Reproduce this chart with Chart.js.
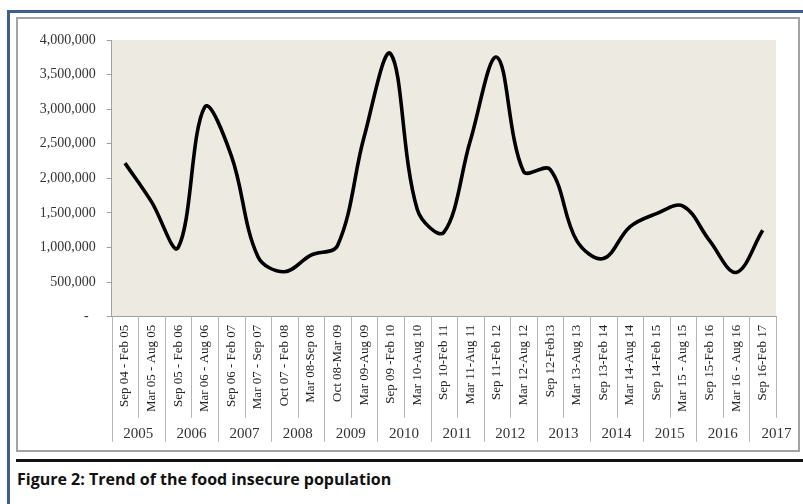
<!DOCTYPE html>
<html>
<head>
<meta charset="utf-8">
<script src="https://cdn.jsdelivr.net/npm/chart.js@4"></script>
<style>
	body { margin: 0; background: #fff; width: 803px; height: 504px; overflow: hidden; position: relative; }
	#blue { position: absolute; left: 7px; top: 10px; width: 796px; height: 494px; border-top: 3px solid #3c5f8d; border-left: 3px solid #3c5f8d; box-sizing: border-box; }
	#frame { position: absolute; left: 16px; top: 17px; width: 784px; height: 435px; border: 2px solid #a3a3a3; box-sizing: border-box; }
	#chartBox { position: absolute; left: 18px; top: 19px; width: 780px; height: 431px; }
	#rule { position: absolute; left: 16px; top: 459px; width: 787px; height: 3px; background: #111; }
	#caption { position: absolute; left: 17px; top: 468px; font: bold 16px "Open Sans", sans-serif; color: #111; white-space: nowrap; }
</style>
</head>
<body>
<div id="blue"></div>
<div id="frame"></div>
<div id="chartBox"><canvas id="Trend" width="780" height="431"></canvas></div>
<div id="rule"></div>
<div id="caption">Figure 2: Trend of the food insecure population</div>
<script>
// categories (six-month periods)
var periods = [
	"Sep 04 - Feb 05", "Mar 05 - Aug 05", "Sep 05 - Feb 06", "Mar 06 - Aug 06",
	"Sep 06 - Feb 07", "Mar 07 - Sep 07", "Oct 07 - Feb 08", "Mar 08-Sep 08",
	"Oct 08-Mar 09", "Mar 09-Aug 09", "Sep 09 -Feb 10", "Mar 10-Aug 10",
	"Sep 10-Feb 11", "Mar 11-Aug 11", "Sep 11-Feb 12", "Mar 12-Aug 12",
	"Sep 12-Feb13", "Mar 13-Aug 13", "Sep 13-Feb 14", "Mar 14-Aug 14",
	"Sep 14-Feb 15", "Mar 15 - Aug 15", "Sep 15-Feb 16", "Mar 16 - Aug 16",
	"Sep 16-Feb 17"
];
// food insecure population
var population = [
	2220000, 1660000, 1000000, 3030000, 2330000, 870000, 650000, 890000,
	1030000, 2600000, 3800000, 1550000, 1220000, 2550000, 3750000, 2100000,
	2130000, 1100000, 840000, 1300000, 1490000, 1600000, 1100000, 640000,
	1250000
];
// year groups under the periods
var years = ["2005", "2006", "2007", "2008", "2009", "2010", "2011", "2012", "2013", "2014", "2015", "2016", "2017"];
var yearSpans = [2, 2, 2, 2, 2, 2, 2, 2, 2, 2, 2, 2, 1];

var serif = '"Liberation Serif", "Times New Roman", serif';

var plotBack = {
	id: 'plotBack',
	beforeDraw(chart) {
		const a = chart.chartArea;
		const ctx = chart.ctx;
		ctx.save();
		ctx.fillStyle = '#edebe1';
		ctx.fillRect(a.left, a.top, a.right - a.left, a.bottom - a.top);
		ctx.restore();
	}
};

var yearAxis = {
	id: 'yearAxis',
	afterDraw(chart) {
		const x = chart.scales.x;
		const ctx = chart.ctx;
		const bottom = chart.chartArea.bottom;
		const half = (x.getPixelForValue(1) - x.getPixelForValue(0)) / 2;
		ctx.save();
		ctx.strokeStyle = '#b4b4b4';
		ctx.lineWidth = 1;
		// short separators between every period
		for (var i = 0; i <= periods.length; i++) {
			var px = Math.round(x.getPixelForValue(i) - half) + 0.5;
			ctx.beginPath();
			ctx.moveTo(px, bottom);
			ctx.lineTo(px, bottom + 101);
			ctx.stroke();
		}
		ctx.font = '15px ' + serif;
		ctx.fillStyle = '#333';
		ctx.textBaseline = 'middle';
		var idx = 0;
		years.forEach((y, g) => {
			var left = x.getPixelForValue(idx) - half;
			var right = x.getPixelForValue(idx + yearSpans[g] - 1) + half;
			var lx = Math.round(left) + 0.5;
			ctx.beginPath();
			ctx.moveTo(lx, bottom);
			ctx.lineTo(lx, bottom + 125);
			ctx.stroke();
			var w = ctx.measureText(y).width;
			if (w > right - left) {
				ctx.textAlign = 'left';
				ctx.fillText(y, left + 12, bottom + 117);
			} else {
				ctx.textAlign = 'center';
				ctx.fillText(y, (left + right) / 2, bottom + 117);
			}
			idx += yearSpans[g];
		});
		ctx.restore();
	}
};

const config = {
	type: 'line',
	data: {
		labels: periods,
		datasets: [{
			label: 'Food insecure population',
			data: population,
			borderColor: '#000',
			borderWidth: 3.6,
			pointRadius: 0,
			tension: 0.36,
			fill: false
		}]
	},
	options: {
		responsive: false,
		animation: false,
		devicePixelRatio: 1,
		layout: { padding: { left: 0, right: 22, top: 21, bottom: 0 } },
		plugins: {
			legend: { display: false },
			tooltip: { enabled: false }
		},
		scales: {
			x: {
				offset: true,
				grid: { drawOnChartArea: false, drawTicks: false, color: '#b4b4b4' },
				border: { color: '#a0a0a0' },
				ticks: {
					autoSkip: false,
					minRotation: 90,
					maxRotation: 90,
					padding: 8,
					color: '#222',
					font: { family: serif, size: 13 }
				},
				afterFit(scale) { scale.height = 133.3; }
			},
			y: {
				min: 0,
				max: 4000000,
				grid: { drawOnChartArea: false, drawTicks: true, tickLength: 5, color: '#a0a0a0' },
				border: { color: '#a0a0a0' },
				ticks: {
					stepSize: 500000,
					padding: 11,
					color: '#333',
					font: { family: serif, size: 14 },
					callback: function (v) {
						if (v === 0) return '-\u2002';
						return v.toLocaleString('en-US');
					}
				},
				afterFit(scale) { scale.width = 93.7; }
			}
		}
	},
	plugins: [plotBack, yearAxis]
};

const trendChart = new Chart(document.getElementById('Trend'), config);
</script>
</body>
</html>
